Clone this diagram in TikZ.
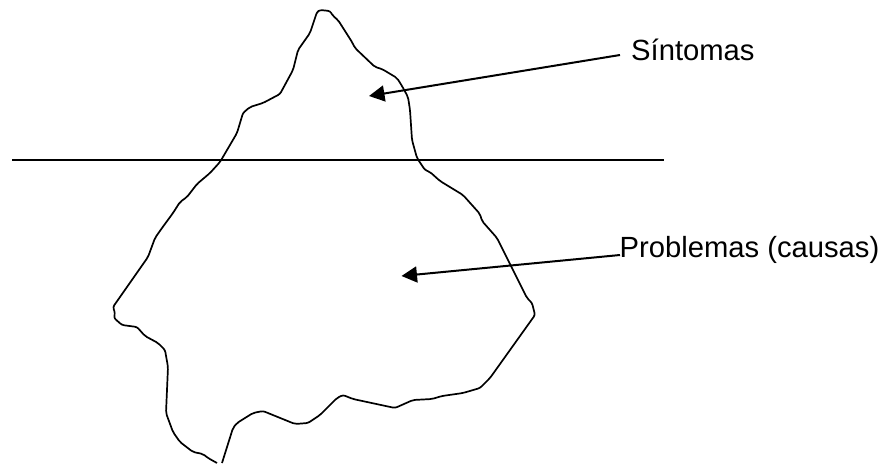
\documentclass[tikz,border=0pt]{standalone}
\usepackage{fontspec}
\setmainfont{Liberation Sans}
\usetikzlibrary{arrows.meta}
\tikzset{
  ice/.style={draw=black,line width=1.7pt,line join=round,rounded corners=2.2pt},
  ptr/.style={draw=black,line width=2pt,-{Triangle[length=15.5pt,width=16pt]}},
  lbl/.style={anchor=base west,inner sep=0pt,font=\fontsize{29.2}{32}\selectfont}
}
\begin{document}
\begin{tikzpicture}[x=1pt,y=-1pt]
\useasboundingbox (0,0) rectangle (883,463);
\draw[ice] (217,463) -- (208,458) -- (203,454) -- (193,452) -- (180,442) -- (173,432) -- (166,413) -- (168,367) -- (165,350) -- (158,343) -- (145,336) -- (137,327) -- (122,325) -- (114,318) -- (115,313) -- (113,307) -- (148,257) -- (155,238) -- (162,228) -- (173,213) -- (180,202) -- (187,197) -- (197,184) -- (210,173) -- (220,162) -- (237,133) -- (243,113) -- (250,107) -- (263,103) -- (280,94) -- (293,70) -- (298,50) -- (310,33) -- (317,12) -- (320,10) -- (330,11) -- (333,16) -- (338,20) -- (352,42) -- (355,48) -- (375,67) -- (382,69) -- (397,78) -- (402,86) -- (408,97) -- (410,110) -- (412,140) -- (417,158) -- (425,170) -- (430,172) -- (440,181) -- (463,195) -- (480,214) -- (482,221) -- (497,238) -- (508,260) -- (527,298) -- (532,303) -- (535,315) -- (490,378) -- (480,388) -- (463,393) -- (442,396) -- (432,399) -- (413,400) -- (395,408) -- (353,399) -- (343,395) -- (337,398) -- (320,415) -- (308,423) -- (295,424) -- (263,411) -- (253,413) -- (237,423) -- (233,428) -- (222,463);
\coordinate (wl) at (12,160);
\coordinate (wr) at (664,160);
\draw[line width=1.7pt] (wl) -- (wr);
\node[lbl] (sint) at (631,60) {Síntomas};
\node[lbl] (prob) at (619.5,257) {Problemas (causas)};
\coordinate (a1) at (620,55);
\coordinate (h1) at (369,96);
\coordinate (a2) at (620,255);
\coordinate (h2) at (401.5,276);
\draw[ptr] (a1) -- (h1);
\draw[ptr] (a2) -- (h2);
\end{tikzpicture}
\end{document}
